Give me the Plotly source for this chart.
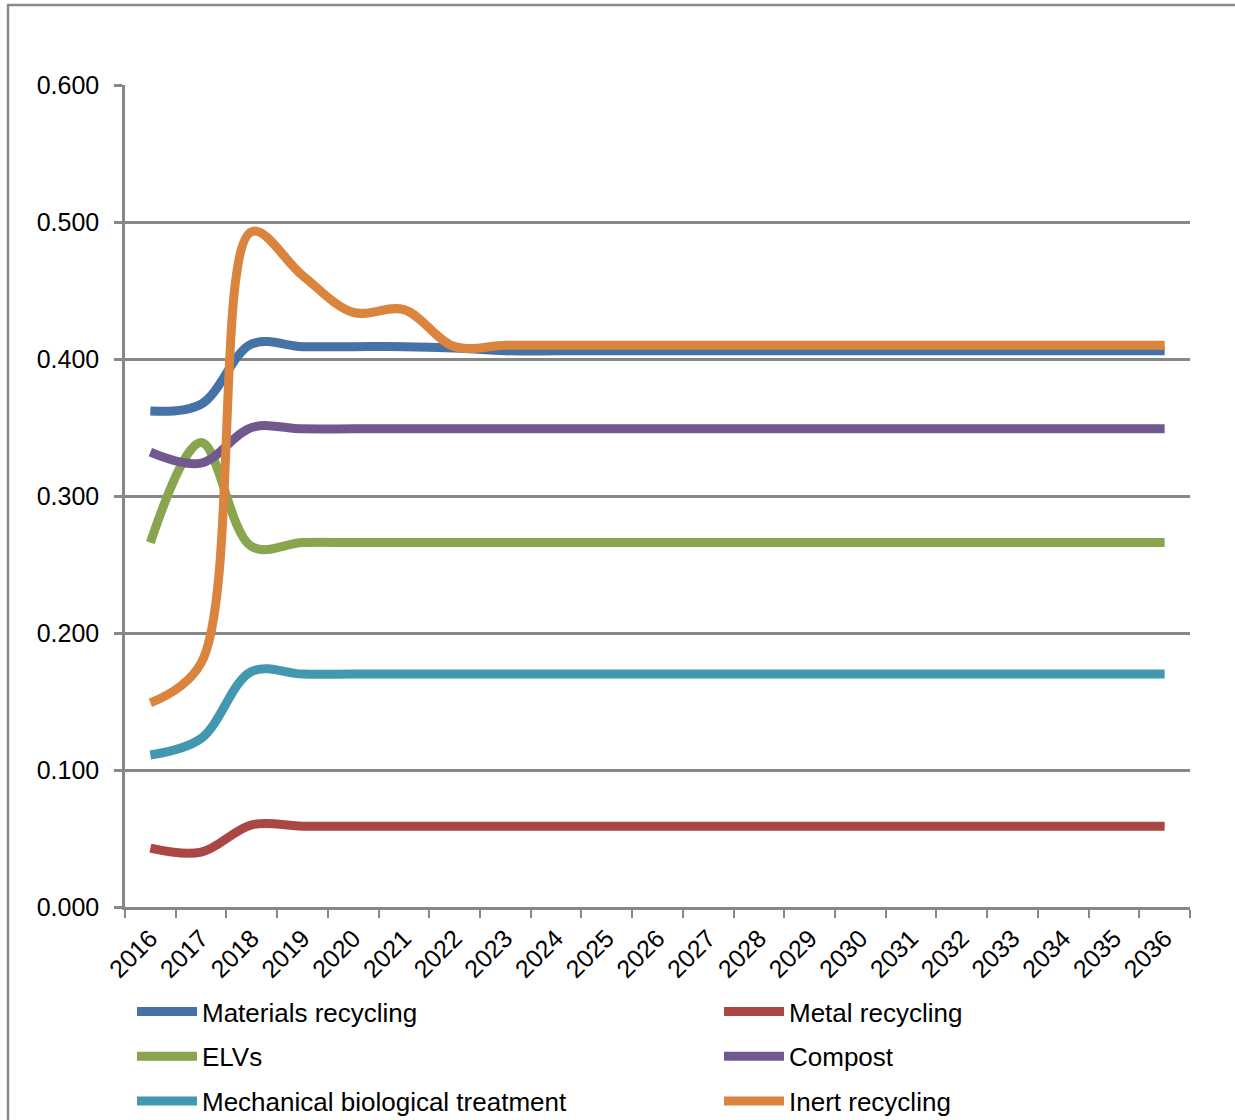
import plotly.graph_objects as go

years = [str(y) for y in range(2016, 2037)]

materials_recycling = [0.362, 0.367, 0.411, 0.409, 0.409, 0.409, 0.408] + [0.406] * 14
metal_recycling = [0.043, 0.040, 0.060, 0.059] + [0.059] * 17
elvs = [0.266, 0.339, 0.263, 0.266] + [0.266] * 17
compost = [0.332, 0.324, 0.350, 0.349] + [0.349] * 17
mbt = [0.111, 0.123, 0.172, 0.170] + [0.170] * 17
inert_recycling = [0.149, 0.178, 0.493, 0.461, 0.434, 0.436, 0.409] + [0.410] * 14

series = [
    ("Materials recycling", materials_recycling, "#4572A7", "legend"),
    ("Metal recycling", metal_recycling, "#AA4643", "legend2"),
    ("ELVs", elvs, "#89A54E", "legend"),
    ("Compost", compost, "#71588F", "legend2"),
    ("Mechanical biological treatment", mbt, "#4198AF", "legend"),
    ("Inert recycling", inert_recycling, "#DB843D", "legend2"),
]

fig = go.Figure()
for name, vals, color, leg in series:
    fig.add_trace(go.Scatter(
        x=years, y=vals, name=name, mode="lines",
        line=dict(color=color, width=9, shape="spline", smoothing=1.0),
        legend=leg, legendgroup=name, hoverinfo="skip",
    ))

L, R, T, B = 125, 45, 85, 213
W, H = 1235, 1120
pw, ph = W - L - R, H - T - B

axis_grey = "#878787"
font_family = "Liberation Sans, Arial, sans-serif"

legend_common = dict(
    y=(907 - 988) / ph, xanchor="left", yanchor="top",
    orientation="v", font=dict(size=26, family=font_family),
    tracegroupgap=8, itemwidth=60, bgcolor="rgba(0,0,0,0)",
)

fig.update_layout(
    width=W, height=H,
    margin=dict(l=L, r=R, t=T, b=B, autoexpand=False),
    paper_bgcolor="white", plot_bgcolor="white",
    font=dict(family=font_family, color="black"),
    showlegend=True,
    legend=dict(x=(132 - L) / pw, **legend_common),
    legend2=dict(x=(719 - L) / pw, **legend_common),
    xaxis=dict(
        type="category", range=[-0.5, 20.5], tickson="boundaries",
        ticks="outside", ticklen=8, tickwidth=2, tickcolor=axis_grey,
        showline=True, linecolor=axis_grey, linewidth=2.5,
        showgrid=False, tickangle=-45, tickfont=dict(size=25),
        ticklabelstandoff=4, zeroline=False, automargin=False,
    ),
    yaxis=dict(
        range=[0, 0.6], tickvals=[0, 0.1, 0.2, 0.3, 0.4, 0.5, 0.6],
        tickformat=".3f", ticks="outside", ticklen=8, tickwidth=2.5,
        tickcolor=axis_grey, showline=True, linecolor=axis_grey, linewidth=2.5,
        showgrid=True, gridcolor=axis_grey, gridwidth=2.5,
        tickfont=dict(size=25), ticklabelstandoff=10, zeroline=False,
        automargin=False,
    ),
    shapes=[dict(
        type="rect", xref="paper", yref="paper",
        x0=(8 - L) / pw, x1=(1245 - L) / pw,
        y0=(907 - 1135) / ph, y1=(907 - 5) / ph,
        line=dict(color="#8a8a8a", width=2.5), fillcolor="rgba(0,0,0,0)",
        layer="below",
    )],
)

fig.write_html("out.html")
